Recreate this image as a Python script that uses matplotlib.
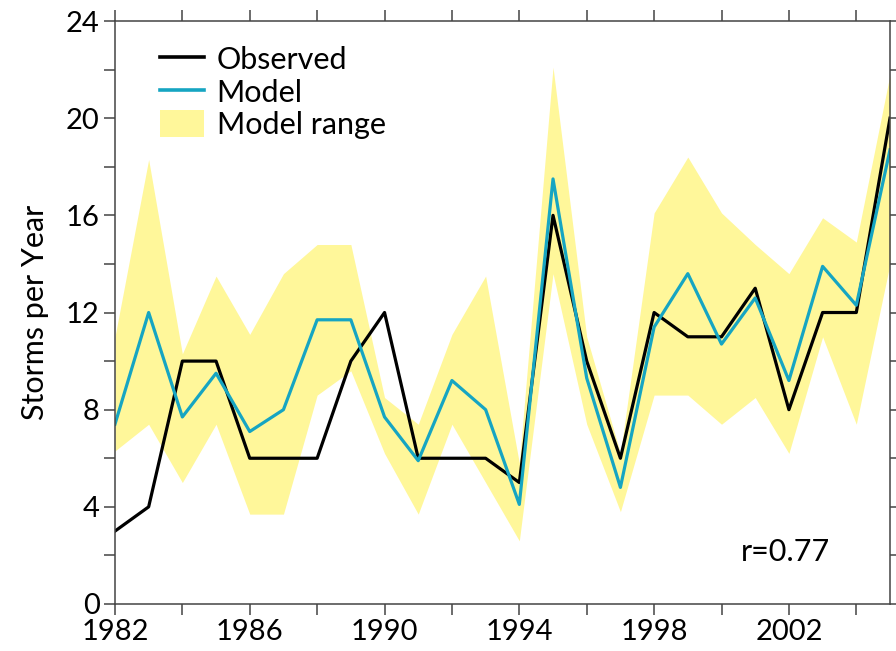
import numpy as np
import matplotlib.pyplot as plt

plt.rcParams['font.family'] = ['Lato', 'DejaVu Sans']

# Data
years = np.arange(1982, 2006)
observed = [3, 4, 10, 10, 6, 6, 6, 10, 12, 6, 6, 6, 5, 16, 10, 6, 12, 11, 11, 13, 8, 12, 12, 20]
model = [7.4, 12.0, 7.7, 9.5, 7.1, 8.0, 11.7, 11.7, 7.7, 5.9, 9.2, 8.0, 4.1, 17.5,
         9.3, 4.8, 11.4, 13.6, 10.7, 12.6, 9.2, 13.9, 12.3, 18.7]
range_low = [6.3, 7.4, 5.0, 7.4, 3.7, 3.7, 8.6, 9.6, 6.2, 3.7, 7.4, 5.0, 2.6, 13.6,
             7.4, 3.8, 8.6, 8.6, 7.4, 8.5, 6.2, 11.0, 7.4, 14.0]
range_high = [11.0, 18.3, 10.3, 13.5, 11.1, 13.6, 14.8, 14.8, 8.5, 7.4, 11.1, 13.5, 5.8, 22.1,
              11.0, 6.2, 16.1, 18.4, 16.1, 14.8, 13.6, 15.9, 14.9, 21.8]

fig = plt.figure(figsize=(8.96, 6.51), dpi=100)
ax = fig.add_axes([0.1283, 0.0722, 0.8650, 0.8955])

ax.fill_between(years, range_low, range_high, color='#FFF79A', linewidth=0, label='Model range')
ax.plot(years, observed, color='black', lw=2.3, label='Observed')
ax.plot(years, model, color='#16A5C2', lw=2.3, label='Model')

ax.set_xlim(1982, 2005)
ax.set_ylim(0, 24)

xt = np.arange(1982, 2005, 2)
ax.set_xticks(xt)
ax.set_xticklabels([str(t) if (t - 1982) % 4 == 0 else '' for t in xt])
yt = np.arange(0, 25, 2)
ax.set_yticks(yt)
ax.set_yticklabels([str(t) if t % 4 == 0 else '' for t in yt])

ax.tick_params(axis='both', which='major', direction='out', length=8, width=1.1,
               color='#444444', labelsize=21, pad=3,
               top=True, right=True)
for s in ax.spines.values():
    s.set_color('#444444')
    s.set_linewidth(1.1)

ax.set_ylabel('Storms per Year', fontsize=22, labelpad=12)

handles, labels = ax.get_legend_handles_labels()
order = [1, 2, 0]
leg = ax.legend([handles[i] for i in order], [labels[i] for i in order],
                loc='upper left', bbox_to_anchor=(0.03, 0.995), frameon=False,
                fontsize=22, handlelength=1.45, handleheight=1.0, handletextpad=0.42,
                labelspacing=0.1, borderaxespad=0.3)
for line in leg.get_lines():
    line.set_linewidth(2.6)

ax.text(0.865, 0.09, 'r=0.77', transform=ax.transAxes, fontsize=22,
        ha='center', va='center')

plt.savefig('out.png', dpi=100)
